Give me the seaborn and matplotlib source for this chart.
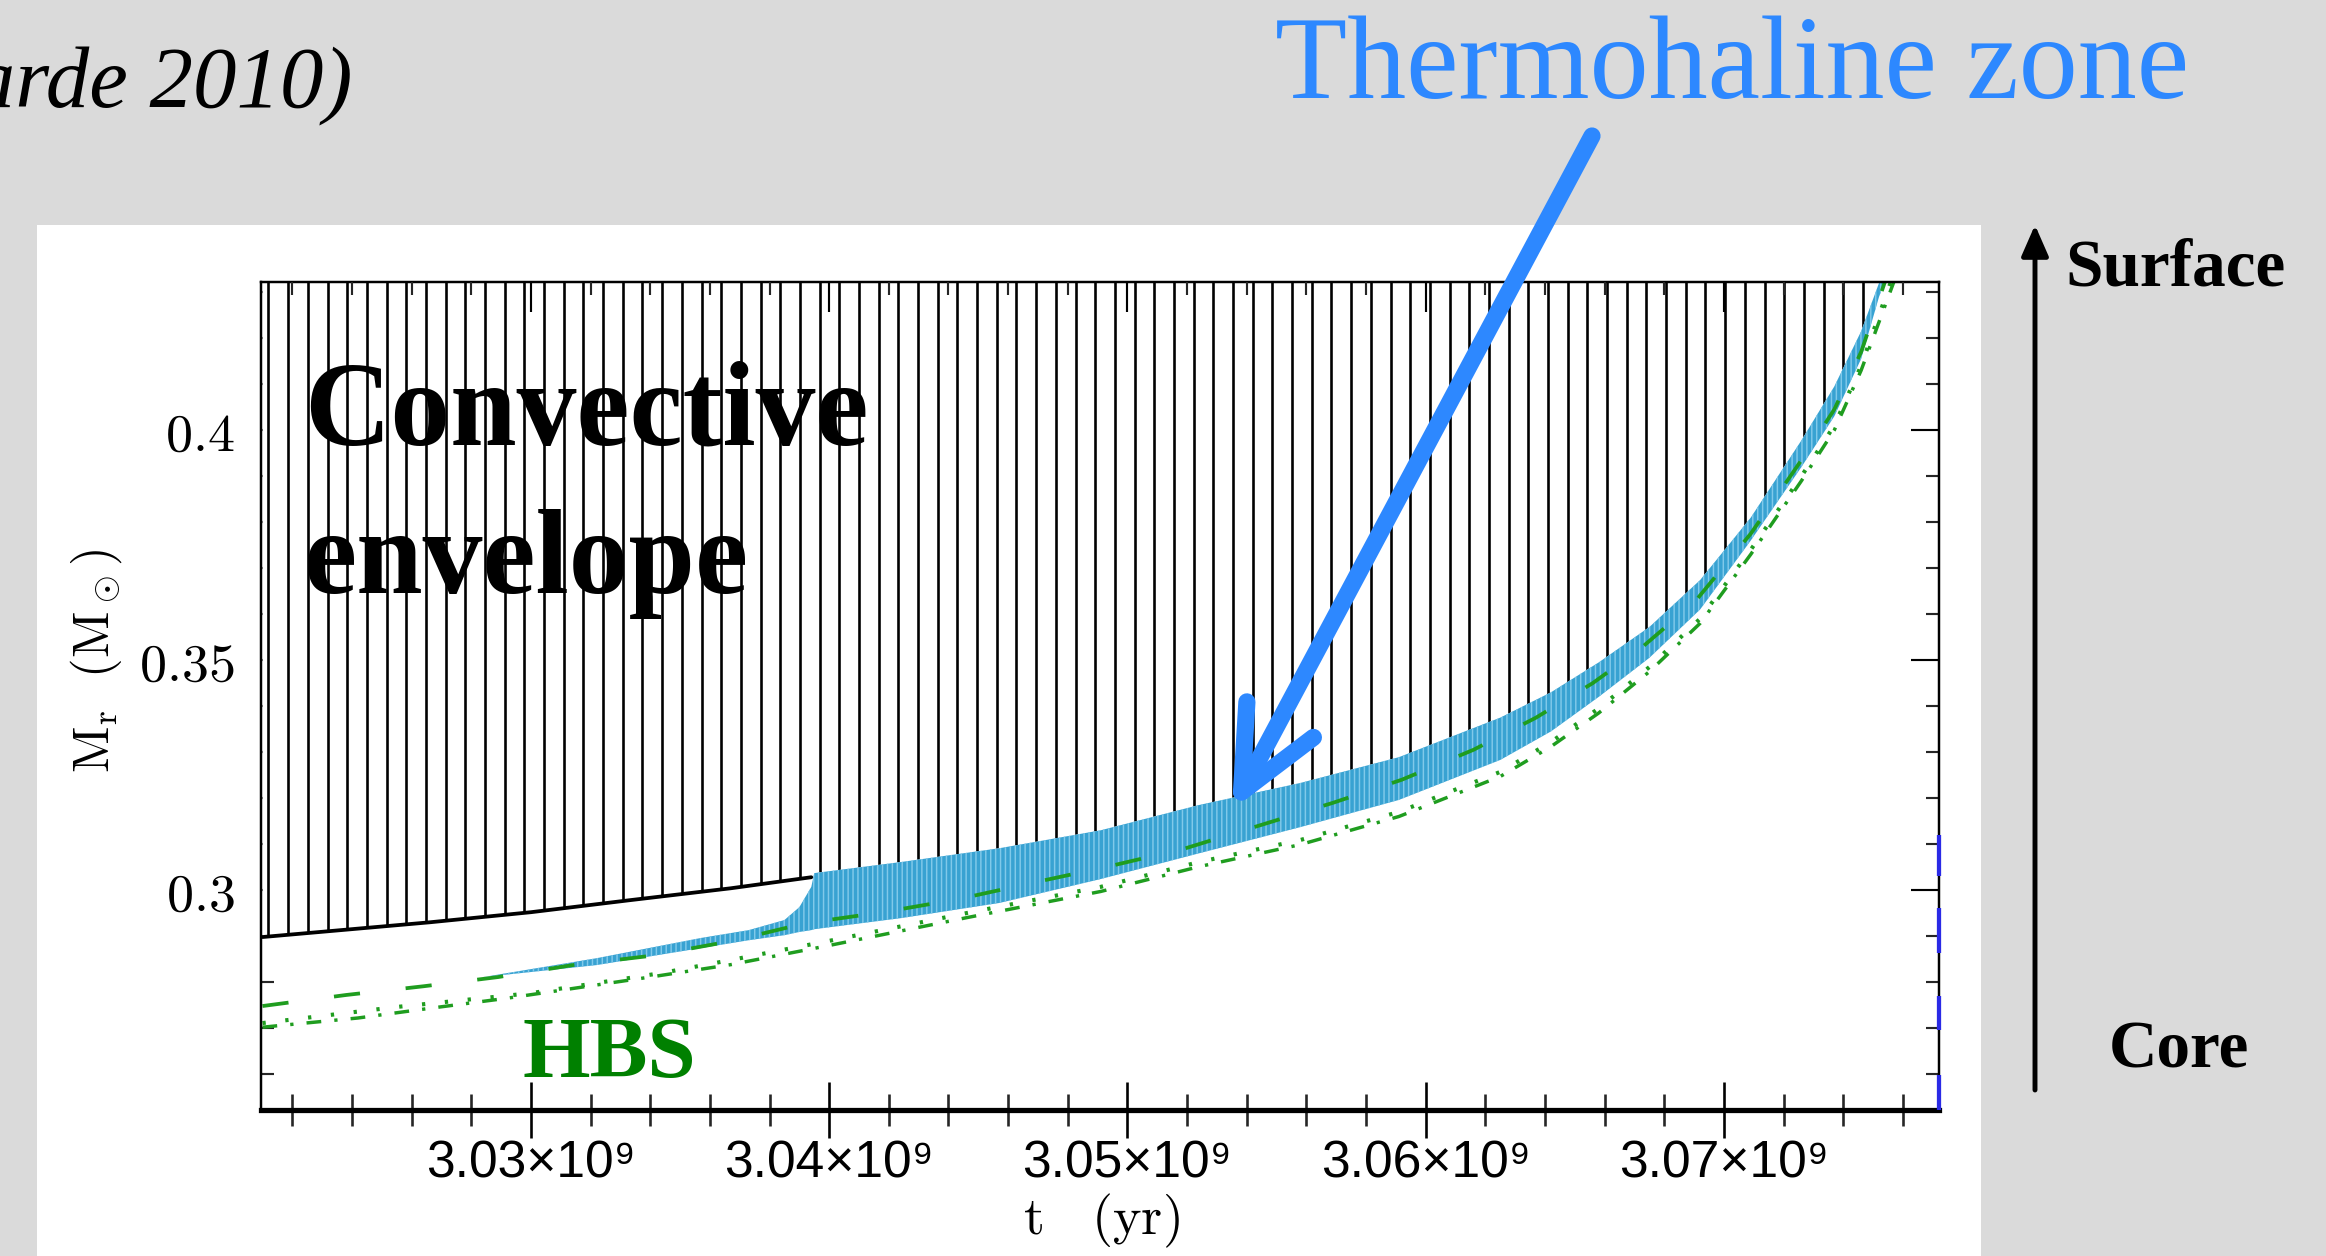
import matplotlib
matplotlib.use("Agg")
import matplotlib.pyplot as plt
import seaborn as sns
import numpy as np
from matplotlib.patches import Rectangle, FancyArrowPatch, ConnectionPatch
from matplotlib.ticker import MultipleLocator, FuncFormatter

# ---------------------------------------------------------------------------
# Data: time in units of 1e9 yr, mass coordinate M_r in solar masses
# ---------------------------------------------------------------------------
# base of the convective envelope before the thermohaline zone reaches it
t_conv_base = [3.0210, 3.0266, 3.0300, 3.0333, 3.0367, 3.0394]
m_conv_base = [0.2898, 0.2930, 0.2952, 0.2978, 0.3004, 0.3028]

# thermohaline mixing zone: time grid, upper and lower edges
t_thm = [3.0284, 3.0322, 3.0357, 3.0373, 3.0385, 3.0390, 3.0394, 3.0395,
         3.0424, 3.0457, 3.0491, 3.0524, 3.0558, 3.0591, 3.0625, 3.0642,
         3.0658, 3.0675, 3.0692, 3.0709, 3.0726, 3.0737, 3.0746, 3.0752,
         3.0755]
m_thm_top = [0.2811, 0.2852, 0.2896, 0.2913, 0.2935, 0.2963, 0.3007, 0.3037,
             0.3061, 0.3091, 0.3130, 0.3185, 0.3233, 0.3289, 0.3375, 0.3430,
             0.3495, 0.3572, 0.3674, 0.3810, 0.3978, 0.4095, 0.4215, 0.4320,
             0.4340]
m_thm_bot = [0.2811, 0.2837, 0.2874, 0.2891, 0.2902, 0.2909, 0.2913, 0.2915,
             0.2939, 0.2972, 0.3024, 0.3080, 0.3137, 0.3196, 0.3283, 0.3345,
             0.3420, 0.3505, 0.3610, 0.3760, 0.3920, 0.4030, 0.4155, 0.4290,
             0.4340]

# hydrogen-burning shell markers
t_hbs_dash = [3.0210, 3.0238, 3.0264, 3.0289, 3.0314, 3.0340, 3.0367, 3.0392,
              3.0418, 3.0443, 3.0469, 3.0494, 3.0519, 3.0544, 3.0569, 3.0592,
              3.0616, 3.0637, 3.0656, 3.0672, 3.0690, 3.0709, 3.0726, 3.0737,
              3.0746, 3.0754]
m_hbs_dash = [0.2748, 0.2772, 0.2791, 0.2811, 0.2837, 0.2857, 0.2889, 0.2928,
              0.2952, 0.2980, 0.3017, 0.3052, 0.3090, 0.3140, 0.3190, 0.3240,
              0.3305, 0.3375, 0.3450, 0.3525, 0.3625, 0.3775, 0.3935, 0.4045,
              0.4170, 0.4323]

t_hbs_dot = [3.0210, 3.0255, 3.0300, 3.0344, 3.0367, 3.0401, 3.0446, 3.0491,
             3.0524, 3.0558, 3.0591, 3.0625, 3.0642, 3.0658, 3.0675, 3.0692,
             3.0709, 3.0726, 3.0737, 3.0746, 3.0756]
m_hbs_dot = [0.2711, 0.2746, 0.2776, 0.2820, 0.2848, 0.2891, 0.2950, 0.3007,
             0.3061, 0.3109, 0.3170, 0.3257, 0.3322, 0.3395, 0.3485, 0.3590,
             0.3740, 0.3900, 0.4010, 0.4140, 0.4323]

t_hbs_dd = [3.0210, 3.0242, 3.0266, 3.0292, 3.0317, 3.0342, 3.0367, 3.0401,
            3.0446, 3.0491, 3.0524, 3.0558, 3.0591, 3.0625, 3.0642, 3.0658,
            3.0675, 3.0692, 3.0709, 3.0726, 3.0737, 3.0746, 3.0757]
m_hbs_dd = [0.2702, 0.2722, 0.2743, 0.2765, 0.2789, 0.2813, 0.2838, 0.2881,
            0.2940, 0.2997, 0.3051, 0.3099, 0.3160, 0.3247, 0.3312, 0.3385,
            0.3475, 0.3580, 0.3730, 0.3890, 0.4000, 0.4130, 0.4323]

# short thermohaline episodes marked on the right frame edge
edge_lo = [0.3030, 0.2863, 0.2696, 0.2522]
edge_hi = [0.3120, 0.2961, 0.2770, 0.2598]

T_MIN, T_MAX = 3.02095, 3.07721
M_MIN, M_MAX = 0.2522, 0.4322

# spacing of the vertical hatching that marks convective regions
HATCH_STEP = 0.00066

# ---------------------------------------------------------------------------
sns.set_theme(style="ticks")
plt.rcParams.update({
    "font.family": ["DejaVu Sans"],
    "mathtext.fontset": "cm",
    "lines.scale_dashes": False,
    "axes.linewidth": 1.5,
})

DPI = 118
W, H = 2326, 1256
fig = plt.figure(figsize=(W / DPI, H / DPI), dpi=DPI, facecolor="#dadada")

# white panel holding the figure
fig.add_artist(Rectangle((37 / W, 0), 1944 / W, 1 - 225 / H,
                         transform=fig.transFigure, facecolor="white",
                         edgecolor="none", zorder=-10))

ax = fig.add_axes([261 / W, 1 - 1110 / H, 1678 / W, 828 / H])
ax.set_facecolor("white")
ax.set_xlim(T_MIN, T_MAX)
ax.set_ylim(M_MIN, M_MAX)


def hatch_width(artist, lw):
    if hasattr(artist, "set_hatch_linewidth"):
        artist.set_hatch_linewidth(lw)


# convective envelope: from its base up to the top of the model
i_join = t_thm.index(3.0395)
t_env = np.array(t_conv_base + t_thm[i_join:])
m_env = np.array(m_conv_base + m_thm_top[i_join:])
env = ax.fill_between(t_env, m_env, M_MAX, facecolor="white",
                      edgecolor="none", linewidth=0, zorder=1)
hatch_x = np.arange(T_MIN + 0.00025, T_MAX, HATCH_STEP)
hatch = ax.vlines(hatch_x, M_MIN, M_MAX, colors="black", lw=1.6, zorder=1.5)
hatch.set_clip_path(env.get_paths()[0], ax.transData)

# thermohaline zone
with plt.rc_context({"hatch.linewidth": 0.9}):
    thm = ax.fill_between(t_thm, m_thm_bot, m_thm_top, facecolor="#38a2d2",
                          edgecolor="#80c9ea", hatch="||||", linewidth=0,
                          zorder=2)
hatch_width(thm, 0.9)

# visible base of the envelope
sns.lineplot(x=t_conv_base, y=m_conv_base, ax=ax, color="black", lw=2.3,
             estimator=None, zorder=3)

green = "#1f9d1f"
sns.lineplot(x=t_hbs_dash, y=m_hbs_dash, ax=ax, color=green, lw=2.3,
             estimator=None, zorder=4)
ax.lines[-1].set_dashes((16, 28))
sns.lineplot(x=t_hbs_dot, y=m_hbs_dot, ax=ax, color=green, lw=2.5,
             estimator=None, zorder=4)
ax.lines[-1].set_dashes((2, 12))
sns.lineplot(x=t_hbs_dd, y=m_hbs_dd, ax=ax, color=green, lw=2.1,
             estimator=None, zorder=4)
ax.lines[-1].set_dashes((9, 8, 2, 8))

ax.vlines([T_MAX] * len(edge_lo), edge_lo, edge_hi, colors="#2a2ae6", lw=2.6,
          clip_on=False, zorder=6)

# ticks and labels
ax.xaxis.set_major_locator(MultipleLocator(0.01))
ax.xaxis.set_minor_locator(MultipleLocator(0.002))
ax.yaxis.set_major_locator(MultipleLocator(0.05))
ax.yaxis.set_minor_locator(MultipleLocator(0.01))
ax.xaxis.set_major_formatter(FuncFormatter(lambda v, p: f"{v:.2f}×10⁹"))
ax.yaxis.set_major_formatter(FuncFormatter(lambda v, p: f"${v:g}$"))

ax.tick_params(axis="y", which="major", direction="in", length=17, width=1.3,
               left=True, right=True, labelsize=33, pad=16, colors="black")
ax.tick_params(axis="y", which="minor", direction="in", length=8, width=1.3,
               left=True, right=True)
ax.tick_params(axis="x", which="major", direction="inout", length=34,
               width=1.6, bottom=True, top=False, labelsize=31.5, pad=1,
               colors="black", labelfontfamily="Liberation Sans")
ax.tick_params(axis="x", which="minor", direction="inout", length=20,
               width=1.6, bottom=True, top=False)

for s in ax.spines.values():
    s.set_linewidth(1.5)
    s.set_color("black")
    s.set_zorder(5)
ax.spines["bottom"].set_linewidth(3.2)

axt = ax.twiny()
axt.set_xlim(T_MIN, T_MAX)
axt.xaxis.set_major_locator(MultipleLocator(0.01))
axt.xaxis.set_minor_locator(MultipleLocator(0.002))
axt.tick_params(axis="x", which="major", direction="in", length=18, width=1.3,
                top=True, bottom=False, labeltop=False, labelbottom=False,
                colors="black")
axt.tick_params(axis="x", which="minor", direction="in", length=8, width=1.3,
                top=True, bottom=False)
for s in axt.spines.values():
    s.set_visible(False)

ax.set_xlabel(r"$\mathrm{t}\quad\mathrm{(yr)}$", fontsize=33, color="black")
ax.xaxis.label.set_va("center")
ax.xaxis.set_label_coords(0.5006, -0.134)
ax.set_ylabel(r"$\mathrm{M_r\ \ (M_\odot)}$", fontsize=31, color="black")
ax.yaxis.label.set(va="center", ha="center")
ax.yaxis.set_label_coords(-0.098, 0.543)

# annotations
serif = "Liberation Serif"
fig.text(352 / W, 1 - 107 / H, "(Charbonnel & Lagarde 2010)", ha="right",
         va="baseline", fontsize=53, family=serif, style="italic",
         color="black")
fig.text(1275 / W, 1 - 98 / H, "Thermohaline zone", ha="left",
         va="baseline", fontsize=72, family=serif, color="#2d88ff")
fig.text(304 / W, 1 - 445 / H, "Convective", ha="left", va="baseline",
         fontsize=73, family=serif, fontweight="bold", color="black")
fig.text(304 / W, 1 - 593 / H, "envelope", ha="left", va="baseline",
         fontsize=73, family=serif, fontweight="bold", color="black")
fig.text(523 / W, 1 - 1077 / H, "HBS", ha="left", va="baseline",
         fontsize=53, family=serif, fontweight="bold", color="#008000")
fig.text(2065 / W, 1 - 285 / H, "Surface", ha="left", va="baseline",
         fontsize=41, family=serif, fontweight="bold", color="black")
fig.text(2109 / W, 1 - 1068 / H, "Core", ha="left", va="baseline",
         fontsize=41, family=serif, fontweight="bold", color="black")

fig.add_artist(FancyArrowPatch((2035 / W, 1 - 1090 / H), (2035 / W, 1 - 225 / H),
                               transform=fig.transFigure,
                               arrowstyle="-|>,head_length=0.8,head_width=0.35",
                               mutation_scale=20, lw=3.0, color="black",
                               shrinkA=0, shrinkB=0, zorder=10))

con = ConnectionPatch(xyA=(1592 / W, 1 - 136 / H), coordsA="figure fraction",
                      xyB=(3.0535, 0.3174), coordsB="data", axesB=ax,
                      arrowstyle="->,head_length=1.0,head_width=0.46",
                      mutation_scale=50, lw=10.5, color="#2d88ff",
                      capstyle="round", joinstyle="round", zorder=20)
fig.add_artist(con)

fig.savefig("out.png", dpi=DPI, facecolor=fig.get_facecolor())
